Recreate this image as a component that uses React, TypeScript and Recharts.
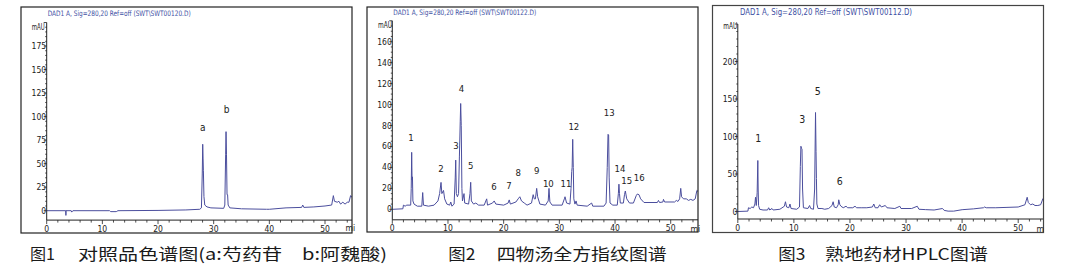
import React from 'react';
import { ComposedChart, Line, XAxis, YAxis, ReferenceDot } from 'recharts';

// ---------- data ----------
// [time (min), signal (mAU)]
const trace1: number[][] = [
  [0, 0], [3.4, 0], [3.45, -5], [3.5, 0.5], [3.6, 0], [4.4, 0], [4.5, -1.5], [4.7, 0], [11.3, 0], [11.5, -1],
  [12.5, -1], [12.8, 0], [20, 0.3], [25, 0.8], [27.5, 1.5], [27.8, 3], [27.95, 40], [28.03, 70.6], [28.1, 55],
  [28.15, 43], [28.25, 15], [28.4, 6], [28.8, 4], [29.5, 3], [31.8, 2.5], [32.0, 6], [32.15, 60], [32.22, 84],
  [32.3, 60], [32.4, 17], [32.5, 17], [32.6, 6], [32.9, 3], [35, 2], [39.5, 1.5], [40, 1.5], [43, 3],
  [45.8, 3.5], [46, 6], [46.2, 3.5], [48, 4], [50, 5], [51.2, 6], [51.5, 16], [51.7, 10], [52.2, 9],
  [52.5, 10], [52.8, 7], [53.2, 9], [53.6, 7], [54, 9], [54.3, 9], [54.6, 16], [54.85, 14],
];

const trace2: number[][] = [
  [0, 0], [1.9, 0.5], [2.0, 4], [2.3, 3], [2.6, 4], [3.3, 4], [3.4, 20], [3.48, 54.4], [3.55, 28], [3.62, 31],
  [3.7, 8], [3.9, 5], [4.5, 3], [5.3, 3], [5.46, 16], [5.6, 4], [6.5, 3], [7.5, 4], [8.2, 8], [8.5, 15],
  [8.75, 25.7], [8.9, 15], [9.2, 18], [9.4, 10], [9.8, 5], [10.3, 4], [10.5, 7], [10.7, 3], [11.1, 5],
  [11.3, 30], [11.39, 47], [11.5, 15], [11.7, 12], [11.9, 15], [12.05, 50], [12.2, 83.6], [12.28, 101],
  [12.38, 80], [12.5, 20], [12.6, 8], [12.88, 15], [13.0, 6], [13.7, 5], [13.95, 15], [14.08, 25.8],
  [14.2, 8], [14.6, 5], [15.0, 6], [15.5, 4], [16.5, 4], [16.95, 10], [17.1, 4], [18.0, 6], [18.3, 8],
  [18.6, 5], [20.0, 4], [20.8, 6], [21.0, 9], [21.2, 5], [22.2, 7], [22.6, 10], [22.9, 12], [23.2, 8],
  [23.7, 6], [24.2, 4], [25.0, 6], [25.3, 14], [25.5, 10], [25.7, 10], [25.93, 20], [26.1, 12], [26.5, 5],
  [27.5, 4], [28.0, 8], [28.14, 20], [28.3, 7], [28.7, 4], [30.5, 4], [30.9, 10], [31.02, 12], [31.3, 6],
  [31.9, 5], [32.1, 20], [32.22, 36], [32.3, 40], [32.4, 66.8], [32.5, 40], [32.6, 10], [32.8, 5], [33.0, 8],
  [33.2, 4], [35.0, 3], [35.8, 6], [36.0, 3], [38.0, 3], [38.4, 6], [38.6, 40], [38.74, 71.6], [38.85, 71],
  [38.95, 30], [39.1, 6], [39.6, 4], [40.4, 4], [40.6, 15], [40.7, 24], [40.8, 15], [40.95, 6], [41.5, 6],
  [41.7, 14], [41.85, 17.5], [42.1, 10], [42.6, 6], [43.3, 6], [43.8, 13], [44.0, 14.6], [44.3, 14],
  [44.6, 10], [45.2, 6.5], [47.6, 6.5], [47.8, 8.5], [48.0, 6.5], [48.6, 7], [48.7, 9.5], [48.9, 7],
  [50.7, 7], [51.0, 8.5], [51.3, 7.5], [51.6, 10], [51.8, 20], [51.95, 12], [52.3, 10], [52.8, 10],
  [53.2, 8.5], [53.6, 9.5], [54.0, 8.5], [54.4, 10], [54.7, 18], [54.9, 17],
];

const trace3: number[][] = [
  [0, 0], [1.8, 0.5], [1.9, 5], [2.2, 4], [2.5, 6], [2.8, 5], [3.05, 10], [3.16, 19], [3.3, 8], [3.45, 25],
  [3.57, 68], [3.63, 30], [3.7, 8], [3.9, 3], [4.5, 2], [5.3, 2], [5.5, 5], [5.7, 2], [6.1, 4], [6.3, 2],
  [7.5, 3], [8.3, 7], [8.5, 13], [8.7, 6], [9.1, 5], [9.3, 10], [9.5, 4], [10.5, 3], [11.0, 6], [11.15, 60],
  [11.25, 87], [11.38, 84], [11.45, 83], [11.55, 30], [11.7, 5], [12.5, 4], [12.8, 8], [13.0, 4], [13.5, 3],
  [13.7, 30], [13.86, 132], [13.95, 80], [14.02, 44], [14.1, 10], [14.3, 4], [15.0, 4], [15.5, 3], [16.2, 4],
  [16.8, 8], [17.0, 13], [17.2, 6], [17.6, 5], [17.9, 9], [18.0, 15.6], [18.2, 9], [18.4, 7], [18.8, 5],
  [19.3, 7], [19.6, 5], [20.5, 5], [20.9, 7], [21.2, 5], [22, 5], [23, 5], [24, 6], [24.25, 10], [24.5, 5],
  [25.0, 5], [25.3, 9], [25.6, 6], [26.3, 8], [26.6, 5], [28.0, 4], [28.9, 7], [29.1, 4], [31.0, 4],
  [32.0, 7], [32.3, 3], [33.5, 2.5], [35, 2], [36.5, 4], [36.8, 1.5], [37.5, 0.5], [38.5, 0.5], [40, 2.4],
  [42, 3.5], [43.8, 5], [44, 6], [44.3, 5], [46, 5], [48, 5.5], [50, 6], [51.2, 9], [51.6, 19], [51.8, 12],
  [52.2, 9], [52.6, 10], [53, 8], [53.5, 8], [54, 9], [54.4, 17], [54.6, 15],
];

const peaks1 = [
  { name: 'a', t: 28.03, v: 88 },
  { name: 'b', t: 32.34, v: 108 },
];
const peaks2 = [
  { name: '1', t: 3.36, v: 68.7 }, { name: '2', t: 8.75, v: 38.5 }, { name: '3', t: 11.43, v: 60.7 },
  { name: '4', t: 12.43, v: 115.5 }, { name: '5', t: 14.08, v: 41.6 }, { name: '6', t: 18.28, v: 21.6 },
  { name: '7', t: 20.96, v: 22.5 }, { name: '8', t: 22.63, v: 35.3 }, { name: '9', t: 25.93, v: 36.8 },
  { name: '10', t: 28.02, v: 24.8 }, { name: '11', t: 31.2, v: 24.8 }, { name: '12', t: 32.6, v: 78.9 },
  { name: '13', t: 38.97, v: 92.6 }, { name: '14', t: 40.9, v: 38.5 }, { name: '15', t: 42.1, v: 27.3 },
  { name: '16', t: 44.35, v: 30.5 },
];
const peaks3 = [
  { name: '1', t: 3.64, v: 97 }, { name: '3', t: 11.48, v: 122.7 },
  { name: '5', t: 14.27, v: 160.4 }, { name: '6', t: 18.19, v: 40 },
];

const headers = [
  'DAD1 A, Sig=280,20 Ref=off (SWT\\SWT00120.D)',
  'DAD1 A, Sig=280,20 Ref=off (SWT\\SWT00122.D)',
  'DAD1 A, Sig=280,20 Ref=off (SWT\\SWT00112.D)',
];
const captionNums = ['图1', '图2', '图3'];
const captionTexts = ['对照品色谱图(a:芍药苷　b:阿魏酸)', '四物汤全方指纹图谱', '熟地药材HPLC图谱'];

const range = (a: number, b: number, s: number) => {
  const out: number[] = [];
  for (let v = a; v <= b + 1e-9; v += s) out.push(Math.round(v * 1000) / 1000);
  return out;
};

// ---------- styles ----------
const AXIS_FONT = '"Liberation Sans Narrow", "DejaVu Sans Condensed", "Liberation Sans", Arial, sans-serif';
const LINE_COLOR = '#4b4e9d';
const AXIS_COLOR = '#222';

type PanelProps = {
  box: { x: number; y: number; w: number; h: number };
  plotLeft: number;
  plotTop: number;
  plotBottom: number;
  xMax: number;
  yDomain: [number, number];
  yMajor: number;
  yMinor: number;
  yLabelMax: number;
  trace: number[][];
  peaks: { name: string; t: number; v: number }[];
  peakFont: number;
};

const Panel = (p: PanelProps) => {
  const data = p.trace.map(([t, v]) => ({ t, v }));
  const xTicks = range(0, p.xMax, 2);
  const yTicks = range(0, p.yDomain[1], p.yMinor);
  const XTick = (props: any) => {
    const { x, y, payload } = props;
    const v = payload.value;
    const major = Math.abs(v % 10) < 1e-6;
    return (
      <g>
        <line x1={x} y1={y} x2={x} y2={y + (major ? 4 : 2.5)} stroke={AXIS_COLOR} strokeWidth={0.8} />
        {major && (
          <text x={x} y={y + 11.5} textAnchor="middle" fontSize={8.5} fill={AXIS_COLOR} fontFamily={AXIS_FONT}>
            {v}
          </text>
        )}
      </g>
    );
  };
  const YTick = (props: any) => {
    const { x, y, payload } = props;
    const v = payload.value;
    const major = Math.abs(v % p.yMajor) < 1e-6;
    return (
      <g>
        <line x1={x - (major ? 3 : 1.5)} y1={y} x2={x} y2={y} stroke={AXIS_COLOR} strokeWidth={0.8} />
        {major && v <= p.yLabelMax && (
          <text x={x - 0.5} y={y + 3} textAnchor="end" fontSize={8.5} fill={AXIS_COLOR} fontFamily={AXIS_FONT}>
            {v}
          </text>
        )}
      </g>
    );
  };
  return (
    <div style={{ position: 'absolute', left: p.box.x, top: p.box.y, width: p.box.w, height: p.box.h }}>
      <ComposedChart
        width={p.box.w}
        height={p.box.h}
        data={data}
        margin={{ top: p.plotTop - p.box.y, right: 0, left: 0, bottom: 0 }}
      >
        <XAxis
          type="number"
          dataKey="t"
          domain={[0, p.xMax]}
          ticks={xTicks}
          interval={0}
          tickSize={0}
          tickMargin={0}
          tickLine={false}
          tick={XTick}
          axisLine={{ stroke: AXIS_COLOR, strokeWidth: 1 }}
          height={p.box.y + p.box.h - p.plotBottom}
          allowDataOverflow
        />
        <YAxis
          type="number"
          domain={p.yDomain}
          ticks={yTicks}
          interval={0}
          tickSize={0}
          tickMargin={0}
          tickLine={false}
          tick={YTick}
          axisLine={{ stroke: AXIS_COLOR, strokeWidth: 1 }}
          width={p.plotLeft - p.box.x}
          allowDataOverflow
        />
        <Line
          type="linear"
          dataKey="v"
          stroke={LINE_COLOR}
          strokeWidth={1}
          dot={false}
          activeDot={false}
          isAnimationActive={false}
        />
        {p.peaks.map((k) => (
          <ReferenceDot
            key={k.name}
            x={k.t}
            y={k.v}
            r={0}
            fill="none"
            stroke="none"
            ifOverflow="visible"
            label={{ value: k.name, position: 'center', fontSize: p.peakFont, fill: '#222', fontFamily: AXIS_FONT }}
          />
        ))}
      </ComposedChart>
    </div>
  );
};

const boxes = [
  { x: 21, y: 7, w: 331, h: 226 },
  { x: 367, y: 7, w: 331, h: 225 },
  { x: 712.5, y: 5.5, w: 331, h: 227 },
];

export default function App() {
  const CJK = '"Noto Sans CJK SC", sans-serif';
  return (
    <div style={{ position: 'absolute', left: 0, top: 0, width: 1077, height: 265, background: '#fff', overflow: 'hidden' }}>
      <Panel
        box={boxes[0]}
        plotLeft={46.7}
        plotTop={22.5}
        plotBottom={220.1}
        xMax={54.85}
        yDomain={[-10, 200]}
        yMajor={25}
        yMinor={5}
        yLabelMax={175}
        trace={trace1}
        peaks={peaks1}
        peakFont={10}
      />
      <Panel
        box={boxes[1]}
        plotLeft={392.3}
        plotTop={20.75}
        plotBottom={219.8}
        xMax={54.9}
        yDomain={[-10, 180]}
        yMajor={20}
        yMinor={5}
        yLabelMax={160}
        trace={trace2}
        peaks={peaks2}
        peakFont={9.5}
      />
      <Panel
        box={boxes[2]}
        plotLeft={737.3}
        plotTop={23.5}
        plotBottom={218.5}
        xMax={54.6}
        yDomain={[-10, 250]}
        yMajor={50}
        yMinor={10}
        yLabelMax={200}
        trace={trace3}
        peaks={peaks3}
        peakFont={10.5}
      />
      <svg width={1077} height={265} style={{ position: 'absolute', left: 0, top: 0, pointerEvents: 'none' }}>
        {boxes.map((b, i) => (
          <rect key={i} x={b.x} y={b.y} width={b.w} height={b.h} fill="none" stroke={i === 2 ? '#444' : '#222'} strokeWidth={1.2} />
        ))}
        <g fill="#3d4fa3" fontFamily={AXIS_FONT}>
          <text x={47.7} y={15.8} fontSize={7.5} textLength={143} lengthAdjust="spacingAndGlyphs">{headers[0]}</text>
          <text x={393.3} y={14.5} fontSize={7.5} textLength={143} lengthAdjust="spacingAndGlyphs">{headers[1]}</text>
          <text x={740} y={14.7} fontSize={8.5} textLength={172} lengthAdjust="spacingAndGlyphs">{headers[2]}</text>
        </g>
        <g fill={AXIS_COLOR} fontFamily={AXIS_FONT} fontSize={8}>
          <text x={31.7} y={29.5} textLength={13} lengthAdjust="spacingAndGlyphs">mAU</text>
          <text x={378} y={27.5} textLength={14} lengthAdjust="spacingAndGlyphs">mAU</text>
          <text x={723.3} y={28.5} textLength={14} lengthAdjust="spacingAndGlyphs">mAU</text>
          <text x={345.5} y={231} fontSize={8.5}>mi</text>
          <text x={690.5} y={231.5} fontSize={8.5}>mi</text>
          <text x={1036.5} y={231.5} fontSize={8.5}>m</text>
        </g>
        <g fill="#1a1a1a" fontFamily={CJK} fontSize={16}>
          <text x={30} y={259.5} textLength={25} lengthAdjust="spacingAndGlyphs">{captionNums[0]}</text>
          <text x={78} y={259.5} textLength={309} lengthAdjust="spacingAndGlyphs">{captionTexts[0]}</text>
          <text x={448.3} y={259.5} textLength={27} lengthAdjust="spacingAndGlyphs">{captionNums[1]}</text>
          <text x={496.7} y={259.5} textLength={170} lengthAdjust="spacingAndGlyphs">{captionTexts[1]}</text>
          <text x={778.3} y={259.5} textLength={27} lengthAdjust="spacingAndGlyphs">{captionNums[2]}</text>
          <text x={825} y={259.5} textLength={163} lengthAdjust="spacingAndGlyphs">{captionTexts[2]}</text>
        </g>
      </svg>
    </div>
  );
}
